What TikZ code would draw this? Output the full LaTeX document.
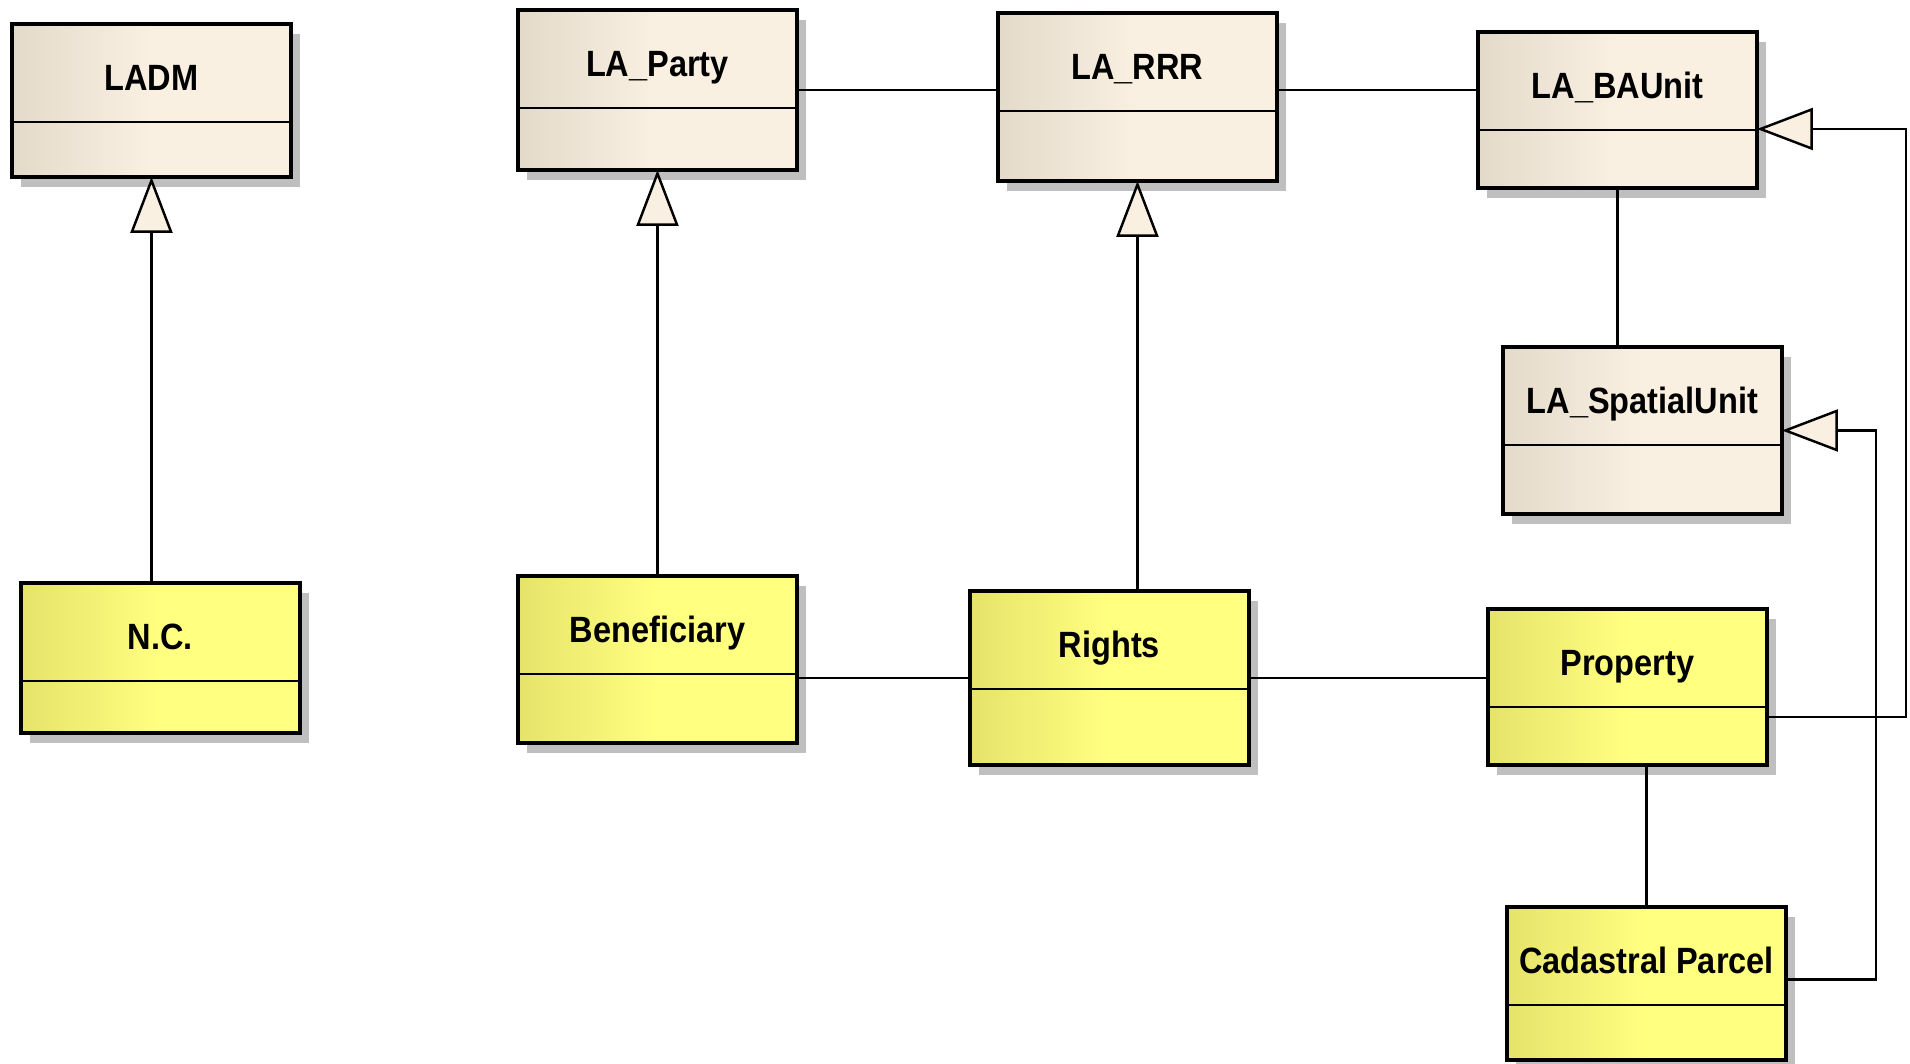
\documentclass[tikz,border=0pt]{standalone}
\usepackage{fontspec}
\setmainfont{Liberation Sans}[FakeStretch=0.89]
\usetikzlibrary{shadows,arrows.meta}
\definecolor{creamleft}{HTML}{E3DACA}
\definecolor{creamright}{HTML}{FAF0E2}
\definecolor{yellowleft}{HTML}{E6E36A}
\definecolor{yellowright}{HTML}{FFFF80}
\tikzset{every class/.style={draw=black, line width=1.8pt, anchor=north west,
                             inner sep=0pt, outer sep=0pt, minimum width=5.58cm,
                             text height=1.34cm, font=\fontsize{20.8}{24}\selectfont\bfseries,
                             drop shadow={shadow xshift=0.18cm, shadow yshift=-0.2cm,
                                          fill=black!25, opacity=1},
                             path picture={\draw[line width=1.6pt]
                               ([yshift=-1.96cm]path picture bounding box.north west) --
                               ([yshift=-1.96cm]path picture bounding box.north east);}},
        ladm class/.style={every class, left color=creamleft, right color=creamright,
                           middle color=creamright, text depth=#1},
        model class/.style={every class, left color=yellowleft, right color=yellowright,
                            middle color=yellowright, text depth=#1},
        link/.style={line width=1.4pt},
        inherit/.style={link, -{Triangle[length=1.12cm, width=0.84cm, fill=creamright]}},
        }

\begin{document}
\begin{tikzpicture}[x=0.02cm, y=-0.02cm]
    \useasboundingbox (0,0) rectangle (1910,1064);

    \node[ladm class=1.72cm] (ladm) at (12,24) {LADM};
    \node[ladm class=1.86cm] (party) at (518,10) {LA\_Party};
    \node[ladm class=2.02cm] (rrr) at (998,13) {LA\_RRR};
    \node[ladm class=1.78cm] (baunit) at (1478,32) {LA\_BAUnit};
    \node[ladm class=2.00cm] (spatial) at (1503,347) {LA\_SpatialUnit};

    \node[model class=1.66cm] (nc) at (21,583) {N.C.};
    \node[model class=2.00cm] (benef) at (518,576) {Beneficiary};
    \node[model class=2.14cm] (rights) at (970,591) {Rights};
    \node[model class=1.78cm] (property) at (1488,609) {Property};
    \node[model class=1.72cm] (parcel) at (1507,907) {Cadastral Parcel};

    \draw[link] (party.east) -- (party.east -| rrr.west);
    \draw[link] (party.east -| rrr.east) -- (party.east -| baunit.west);
    \draw[link] (rights.west -| benef.east) -- (rights.west);
    \draw[link] (rights.east) -- (rights.east -| property.west);
    \draw[link] (baunit.south) -- (baunit.south |- spatial.north);
    \draw[link] (parcel.north |- property.south) -- (parcel.north);

    \draw[inherit] (ladm.south |- nc.north) -- (ladm.south);
    \draw[inherit] (benef) -- (party);
    \draw[inherit] (rrr.south |- rights.north) -- (rrr.south);
    \draw[inherit] ([yshift=-0.6cm]property.east) -| ([xshift=2.98cm,yshift=-0.38cm]baunit.east)
        -- ([yshift=-0.38cm]baunit.east);
    \draw[inherit] ([yshift=0.08cm]parcel.east) -| ([xshift=1.88cm]spatial.east) -- (spatial.east);
\end{tikzpicture}
\end{document}
